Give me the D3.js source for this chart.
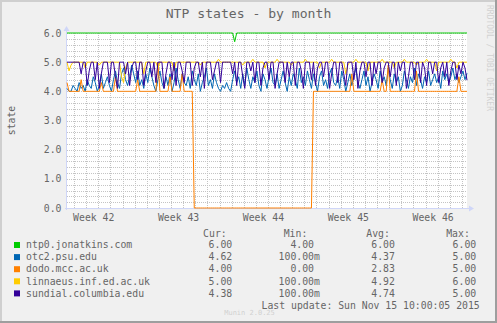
<!DOCTYPE html>
<html>
<head>
<meta charset="utf-8">
<script src="https://cdn.jsdelivr.net/npm/d3@7"></script>
<style>
  html, body { margin: 0; padding: 0; background: #F0F0F0; }
  svg { display: block; }
  text { font-family: "DejaVu Sans Mono", monospace; }
</style>
</head>
<body>
<svg id="chart" width="497" height="323"></svg>
<script>
// ---- data -------------------------------------------------------------
const chartTitle = "NTP states - by month";
const yAxisLabel = "state";
const seriesNames = ["ntp0.jonatkins.com", "otc2.psu.edu", "dodo.mcc.ac.uk",
                     "linnaeus.inf.ed.ac.uk", "sundial.columbia.edu"];
const seriesColors = ["#00CC00", "#0066B3", "#FF8000", "#FFCC00", "#330099"];
const yTickValues = [0, 1, 2, 3, 4, 5, 6];
const periodStart = Date.UTC(2015, 9, 13, 10, 0, 5);
const periodEnd = Date.UTC(2015, 10, 15, 10, 0, 5);
const sampleHours = 4;

const ntp0 = [
  6,6,6,6,6,6,6,6,6,6,6,6,6,6,6,6,6,6,6,6,
  6,6,6,6,6,6,6,6,6,6,6,6,6,6,6,6,6,6,6,6,
  6,6,6,6,6,6,6,6,6,6,6,6,6,6,6,6,6,6,6,6,
  6,6,6,6,6,6,6,6,6,6,6,6,6,6,6,6,6,6,6,6,
  6,6,6,5.7,6,6,6,6,6,6,6,6,6,6,6,6,6,6,6,6,
  6,6,6,6,6,6,6,6,6,6,6,6,6,6,6,6,6,6,6,6,
  6,6,6,6,6,6,6,6,6,6,6,6,6,6,6,6,6,6,6,6,
  6,6,6,6,6,6,6,6,6,6,6,6,6,6,6,6,6,6,6,6,
  6,6,6,6,6,6,6,6,6,6,6,6,6,6,6,6,6,6,6,6,
  6,6,6,6,6,6,6,6,6,6,6,6,6,6,6,6,6,6,6
];
const otc2 = [
  4.1,4.0,4.0,4.2,4.1,4.0,4.3,4.1,4.2,4.0,4.4,4.2,4.1,4.5,4.3,4.0,4.2,4.6,4.1,4.3,
  4.5,4.2,4.0,4.4,4.7,4.3,4.1,4.6,4.8,4.4,4.2,4.5,4.9,4.6,4.3,4.7,4.2,4.4,4.1,4.6,
  4.3,4.8,4.5,4.2,4.0,4.4,4.7,4.3,4.1,4.5,4.2,4.6,4.0,4.3,4.8,4.4,4.1,4.6,4.3,4.2,
  4.5,4.1,4.7,4.4,4.2,4.6,4.0,4.3,4.5,4.8,4.2,4.4,4.1,4.6,4.3,4.1,4.0,4.2,4.1,4.3,
  4.1,4.0,4.4,4.7,4.3,4.5,4.1,4.6,4.2,4.8,4.4,4.1,4.5,4.3,4.7,4.2,4.0,4.6,4.4,4.1,
  4.5,4.8,4.3,4.2,4.6,4.1,4.4,4.7,4.3,4.0,4.5,4.2,4.6,4.4,4.1,4.8,4.3,4.5,4.2,4.7,
  4.4,4.1,4.6,4.3,4.0,4.5,4.7,4.2,4.4,4.1,4.6,4.8,4.3,4.2,4.5,4.1,4.7,4.4,4.0,4.3,
  4.6,4.2,4.5,4.8,4.3,4.1,4.4,4.7,4.2,4.5,4.0,4.3,4.6,4.4,4.1,4.7,4.3,4.5,4.2,4.8,
  4.4,4.1,4.6,4.3,4.5,4.0,4.2,4.7,4.4,4.1,4.5,4.3,4.8,4.2,4.6,4.4,4.1,4.5,4.3,4.7,
  4.2,4.4,4.6,4.3,4.5,4.1,4.7,4.4,4.6,4.3,4.5,4.8,4.4,4.6,4.3,4.5,4.7,4.4,4.62
];
const dodo = [
  4.3,4,4,4,4,4,4,4.4,4,4,4,4,4,4,4,4,4,4.3,4,4,
  4,4,4,4,4.5,4,4,4,4,4,4,4,4,4,4,4.4,4,4,4,4,
  4,4,4,4,4,5,4,4,4,4,4,4.5,4,4,4,4,4,4.6,4,4,
  4,4,4,0,0,0,0,0,0,0,0,0,0,0,0,0,0,0,0,0,
  0,0,0,0,0,0,0,0,0,0,0,0,0,0,0,0,0,0,0,0,
  0,0,0,0,0,0,0,0,0,0,0,0,0,0,0,0,0,0,0,0,
  0,0,4,4,4,4,4,4,4,4,4,4,4,4,4,4,4,4,4,4,
  4,4.6,4,4,4,4,4,4,4,4,4,4,4,4,4,4,4.4,4,4,4.9,
  4,4,4,4,4,4,4,4,4,4,4,4,4,4.7,4,4,4,4,4,4,
  4,4,4,4,4,4,4,4,4,4,4,4,4,4,4.5,4,4,4,4
];
const linnaeus = [
  5,4.7,4.9,5,5,5,5,5,5,4.8,5,5,5,5,5,5,4.9,5,5,5,
  5,5,5,5,5,5,5,4.5,4.3,4.8,5,5,5,5,5,5,5,5,4.6,5,
  5,5,5,5,5,4.8,5,5,5,5,5,5,5,4.7,5,5,5,5,5,5,
  5,5,5,5,5,5,4.9,5,5,5,5,5,5,5,5,5.1,5,5,5,5,
  5,5,5,5,5,5,5,4.9,5,5,5,5,5.1,5,5,5,5,5,4.8,5,
  5,5,5,5,5.1,5,5,5,5,5,5,4.9,5,5,5,5,5,5,5.1,5,
  5,5,5,5,5,4.8,5,5,5,5,5,5.1,5,5,5,5,5,5,4.6,4.9,
  5,5,5,5.1,5,5,5,5,5,4.7,5,5,5,5,5,5,5.1,5,5,5,
  5,5,4.8,5,5,5,5,5.1,5,5,5,5,5,4.9,5,5,5,5,5.1,5,
  5,5,5,4.7,5,5,5,5,5,5,5.1,5,5,4.8,5,5,5,5,5
];
const sundial = [
  5,5,5,5,5,5,5,4.6,5,5,4.2,4.7,5,5,4.4,5,4.1,4.6,5,5,
  5,4.3,5,5,4.5,4.1,5,5,5,4.6,5,4.2,4.8,5,5,4.4,5,5,4.2,4.7,
  5,5,4.5,5,4.3,5,5,5,4.1,4.6,5,5,4.4,5,4.2,5,5,4.7,4.3,5,
  5,5,4.2,4.8,5,5,4.5,5,4.1,5,5,5,4.4,4.7,5,5,4.3,5,5,5,
  5,5,4.6,5,4.2,5,5,4.5,4.1,5,5,4.7,5,4.3,5,5,4.2,4.8,5,5,
  4.4,5,5,4.1,4.6,5,5,5,4.3,5,4.5,5,5,4.2,5,5,4.7,4.1,5,5,
  5,4.4,5,4.2,4.8,5,5,4.5,5,5,4.1,4.6,5,5,4.3,5,5,4.6,4.2,5,
  5,5,4.4,5,4.1,4.7,5,5,4.5,5,5,4.2,5,4.6,5,5,4.3,4.8,5,5,
  4.5,5,5,4.2,5,4.7,5,5,4.1,4.5,5,5,4.4,5,5,4.3,5,4.8,4.2,5,
  5,4.6,5,5,4.3,4.8,5,4.5,5,4.2,4.7,5,5,4.4,4.9,4.6,5,4.8,4.38
];
const seriesValues = [ntp0, otc2, dodo, linnaeus, sundial];

const legendHeaders = ["Cur:", "Min:", "Avg:", "Max:"];
const legendCur = ["6.00", "4.62", "4.00", "5.00", "4.38"];
const legendMin = ["4.00", "100.00m", "0.00", "100.00m", "100.00m"];
const legendAvg = ["6.00", "4.37", "2.83", "4.92", "4.74"];
const legendMax = ["6.00", "5.00", "5.00", "6.00", "5.00"];
const lastUpdateText = "Last update: Sun Nov 15 10:00:05 2015";
const watermarkText = "Munin 2.0.25";
const vendorText = "RRDTOOL / TOBI OETIKER";

// ---- layout -----------------------------------------------------------
const W = 497, H = 323;
const plot = { left: 67, top: 33, width: 400, height: 175 };
const fontSize = 9.8;
const fontColor = "#666666";
const gridColor = "#C4C4C4";
const axisColor = "#CFD6F8";

const svg = d3.select("#chart");

// frame with 3D shading
svg.append("rect").attr("width", W).attr("height", H).attr("fill", "#F0F0F0");
svg.append("path").attr("d", `M0,0H${W}V2H2V${H}H0Z`).attr("fill", "#CFCFCF");
svg.append("path").attr("d", `M${W},0V${H}H0V${H-2}H${W-2}V0Z`).attr("fill", "#9E9E9E");

const x = d3.scaleUtc()
  .domain([new Date(periodStart), new Date(periodEnd)])
  .range([plot.left, plot.left + plot.width]);
const y = d3.scaleLinear()
  .domain([0, 6])
  .range([plot.top + plot.height, plot.top]);

// canvas
svg.append("rect")
  .attr("x", plot.left).attr("y", plot.top)
  .attr("width", plot.width).attr("height", plot.height)
  .attr("fill", "#FFFFFF");

const grid = svg.append("g").attr("stroke", gridColor).attr("stroke-width", 1)
  .attr("stroke-dasharray", "1,1").attr("fill", "none");

// horizontal grid every 0.2
const yMinor = d3.range(0, 31).map(k => k / 5);
grid.selectAll("line.hy").data(yMinor).join("line")
  .attr("x1", plot.left).attr("x2", plot.left + plot.width)
  .attr("y1", d => Math.round(y(d)) + 0.5).attr("y2", d => Math.round(y(d)) + 0.5);

// vertical grid every day
const days = d3.utcDay.range(new Date(periodStart), new Date(periodEnd));
grid.selectAll("line.vx").data(days).join("line")
  .attr("x1", d => Math.round(x(d)) + 0.5).attr("x2", d => Math.round(x(d)) + 0.5)
  .attr("y1", plot.top).attr("y2", plot.top + plot.height);

// axes with arrows
const axis = svg.append("g");
axis.append("line")
  .attr("x1", plot.left - 2).attr("x2", plot.left + plot.width + 4)
  .attr("y1", y(0) + 0.5).attr("y2", y(0) + 0.5)
  .attr("stroke", axisColor);
axis.append("path")
  .attr("d", `M${plot.left + plot.width + 2},${y(0) - 2.5}L${plot.left + plot.width + 7},${y(0) + 0.5}L${plot.left + plot.width + 2},${y(0) + 3.5}Z`)
  .attr("fill", axisColor);
axis.append("line")
  .attr("x1", plot.left - 0.5).attr("x2", plot.left - 0.5)
  .attr("y1", y(0) + 2).attr("y2", plot.top - 4)
  .attr("stroke", axisColor);
axis.append("path")
  .attr("d", `M${plot.left - 3.5},${plot.top - 2}L${plot.left - 0.5},${plot.top - 7}L${plot.left + 2.5},${plot.top - 2}Z`)
  .attr("fill", axisColor);

// y tick labels
svg.append("g").selectAll("text").data(yTickValues).join("text")
  .attr("x", 61.5).attr("y", d => y(d) + 3.6)
  .attr("text-anchor", "end").attr("font-size", fontSize).attr("fill", fontColor)
  .text(d3.format(".1f"));

// week labels, centred on the middle of each ISO week
const weekStarts = d3.utcMonday.range(new Date(periodStart - 7 * 864e5), new Date(periodEnd));
const weekLabels = weekStarts
  .map(d => ({ week: d, mid: new Date(+d + 3.5 * 864e5) }))
  .filter(d => x(d.mid) > plot.left && x(d.mid) < plot.left + plot.width);
svg.append("g").selectAll("text").data(weekLabels).join("text")
  .attr("x", d => x(d.mid) + 1.5).attr("y", 221)
  .attr("text-anchor", "middle").attr("font-size", fontSize).attr("fill", fontColor)
  .text(d => "Week " + d3.utcFormat("%V")(d.week));

// y axis title
svg.append("text")
  .attr("transform", `translate(14.5,${plot.top + plot.height / 2}) rotate(-90)`)
  .attr("text-anchor", "middle").attr("font-size", fontSize).attr("fill", fontColor)
  .text(yAxisLabel);

// chart title
svg.append("text")
  .attr("x", W / 2).attr("y", 18)
  .attr("text-anchor", "middle").attr("font-size", 13.1).attr("fill", fontColor)
  .text(chartTitle);

// vendor mark along the right edge
svg.append("text")
  .attr("transform", `translate(486.5,5) rotate(90)`)
  .attr("font-size", 8).attr("fill", "#D2D2D2")
  .text(vendorText);

// series lines
const line = d3.line()
  .x((d, i) => x(new Date(periodStart + i * sampleHours * 36e5)))
  .y(d => y(d));
const lines = svg.append("g").attr("fill", "none").attr("stroke-width", 1);
seriesValues.forEach((vals, k) => {
  lines.append("path").attr("d", line(vals)).attr("stroke", seriesColors[k]);
});

// legend
const legend = svg.append("g").attr("font-size", fontSize).attr("fill", fontColor)
  .attr("xml:space", "preserve");
const headerX = [203.1, 283.7, 366.3, 446.2];
legendHeaders.forEach((h, i) => {
  legend.append("text").attr("x", headerX[i]).attr("y", 236.5).text(h);
});
const colX = [196.8, 278.6, 359.5, 440.8];
const fmt = v => (/[a-zA-Z]$/.test(v) ? v : v + " ").padStart(7, " ");
seriesNames.forEach((name, k) => {
  const cy = 245 + k * 12.1;
  legend.append("rect").attr("x", 14).attr("y", cy - 3).attr("width", 6).attr("height", 6)
    .attr("fill", seriesColors[k]);
  legend.append("text").attr("x", 26.1).attr("y", cy + 3.2).text(name);
  [legendCur, legendMin, legendAvg, legendMax].forEach((col, c) => {
    legend.append("text").attr("x", colX[c]).attr("y", cy + 3.2)
      .style("white-space", "pre").text(fmt(col[k]));
  });
});
legend.append("text").attr("x", 261.5).attr("y", 309).text(lastUpdateText);

// watermark
svg.append("text")
  .attr("x", W / 2 + 1).attr("y", 315)
  .attr("text-anchor", "middle").attr("font-size", 7).attr("fill", "#D0D0D0")
  .text(watermarkText);
</script>
</body>
</html>
